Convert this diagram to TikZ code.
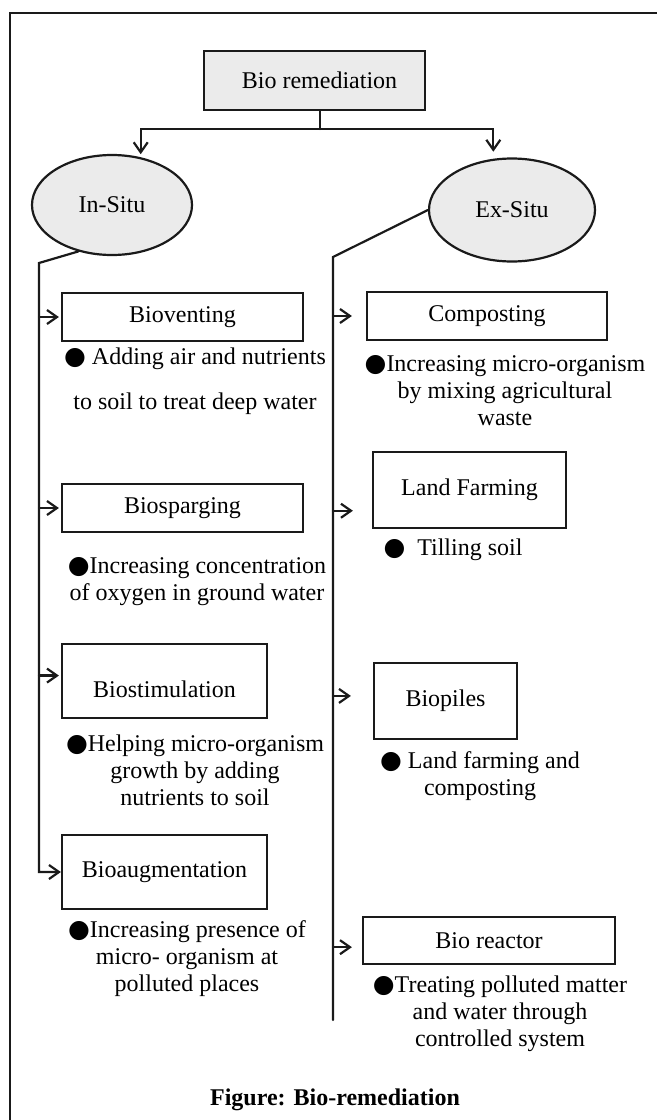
\documentclass[tikz,border=0pt]{standalone}
\usepackage{fontspec}
\setmainfont{Liberation Serif}
\newfontfamily\symfont{DejaVu Sans}
\usepackage{tikz}
\usetikzlibrary{positioning, arrows.meta, shapes.geometric, calc}

\newcommand{\blt}{{\symfont\fontsize{12.5}{13.5}\selectfont ●}}

\begin{document}
\begin{tikzpicture}[
    x=0.5pt, y=-0.5pt,
    font=\fontsize{12}{13.5}\selectfont,
    >={Straight Barb[length=5pt,width=7pt]},
    every path/.style={line cap=round},
]
% ── Colours ──
\definecolor{ink}{HTML}{1A1A1A}
\definecolor{boxfill}{HTML}{EBEBEB}

% ── Styles ──
\tikzset{
    top-box/.style={draw=ink, fill=boxfill, rectangle, line width=1.1pt, inner sep=0pt},
    branch/.style={draw=ink, fill=boxfill, ellipse, line width=1.1pt, inner sep=0pt,
        minimum width=80pt, minimum height=50pt},
    method/.style={draw=ink, rectangle, line width=1.1pt, inner sep=0pt},
    note/.style={align=center, inner sep=0pt},
    link/.style={draw=ink, line width=1.1pt},
    flow/.style={link, ->},
    frame-line/.style={draw=ink, line width=1.4pt},
}

\useasboundingbox (0,0) rectangle (657,1120);

% ── Frame ──
\draw[frame-line] (10,1130) -- (10,13) -- (667,13);

% ── Root and the two branches ──
\node[top-box, minimum width=110.5pt, minimum height=29.5pt] (root) at (314.5,80.5)
    {\hspace{5pt}Bio remediation};
\node[branch] (insitu) at (112,205) {In-Situ\hspace{8.5pt}};
\node[branch, minimum width=83pt, minimum height=51.5pt] (exsitu) at (512,210)
    {Ex-Situ\hspace{12.5pt}};

\coordinate (split) at (320,129);
\draw[link] (root.south -| split) -- (split);
\draw[flow, shorten >=1.5pt] (split) -| (insitu.59);
\draw[flow, shorten >=3.5pt] (split) -| (exsitu.110);

% ── In-situ methods ──
\node[method, minimum width=120.5pt, minimum height=24pt] (vent) at (182.5,317) {Bioventing};
\node[note] (ventnote) at (195,381.5)
    {\blt\ Adding air and nutrients\\[9pt]to soil to treat deep water};

\node[method, minimum width=120.5pt, minimum height=24pt] (sparg) at (182.5,508) {Biosparging};
\node[note] (spargnote) at (197,581.5)
    {\blt Increasing concentration\\of oxygen in ground water};

\node[method, minimum width=102.5pt, minimum height=37pt] (stim) at (164.5,681)
    {\raisebox{-4pt}[\height][\depth]{Biostimulation}\hspace{5.5pt}};
\node[note] (stimnote) at (195,770)
    {\blt Helping micro-organism\\growth by adding\\nutrients to soil};

\node[method, minimum width=102.5pt, minimum height=37pt] (aug) at (164.5,872)
    {Bioaugmentation\hspace{6pt}};
\node[note] (augnote) at (187,959)
    {\blt Increasing presence of\\micro- organism at\\polluted places};

% ── Ex-situ methods ──
\node[method, minimum width=120pt, minimum height=24pt] (comp) at (487,316) {Composting};
\node[note] (compnote) at (505,391)
    {\blt Increasing micro-organism\\by mixing agricultural\\waste};

\node[method, minimum width=96.5pt, minimum height=38pt] (lf) at (469.5,490)
    {Land Farming\hspace{5.5pt}};
\node[note] (lfnote) at (453,550) {\blt\ \ Tilling soil};

\node[method, minimum width=71.5pt, minimum height=38pt] (pile) at (445.5,701)
    {Biopiles\hspace{12.5pt}};
\node[note] (pilenote) at (480,776.5) {\blt\ Land farming and\\composting};

\node[method, minimum width=126pt, minimum height=23.5pt] (reac) at (489,940.5) {Bio reactor};
\node[note] (reacnote) at (500,1014)
    {\blt Treating polluted matter\\and water through\\controlled system};

% ── In-situ trunk ──
\coordinate (inbus) at (39,263);
\draw[flow] (insitu.234) -- (inbus) |- (aug.west);
\draw[flow, shorten >=1pt] (inbus |- vent.west) -- (vent.west);
\draw[flow, shorten >=1pt] (inbus |- sparg.west) -- (sparg.west);
\draw[flow, shorten >=1pt] (inbus |- stim.177) -- (stim.177);

% ── Ex-situ trunk ──
\coordinate (exbus) at (333,257);
\coordinate (exend) at (333,1020);
\draw[link] (exsitu.west) -- (exbus) -- (exend);
\draw[flow, shorten >=7pt] (exbus |- comp.west) -- (comp.west);
\draw[flow, shorten >=9.5pt] (exbus |- lf.192) -- (lf.192);
\draw[flow, shorten >=11pt] (exbus |- pile.176) -- (pile.176);
\draw[flow, shorten >=5pt] (exbus |- reac.183) -- (reac.183);

% ── Caption ──
\node[note] (caption) at (335,1100) {\bfseries Figure: Bio-remediation};

\end{tikzpicture}
\end{document}
